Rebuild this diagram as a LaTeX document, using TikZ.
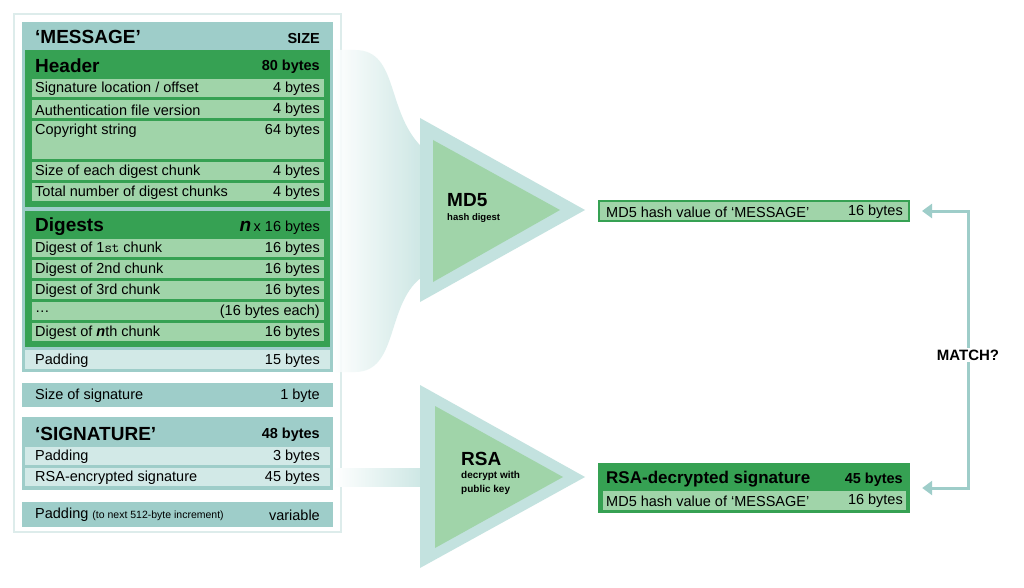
\documentclass[tikz,border=0pt]{standalone}
\usepackage{fontspec}
\setmainfont{Liberation Sans}
\usetikzlibrary{arrows.meta}
\definecolor{teal1}{HTML}{9ECDC9}
\definecolor{grn}{HTML}{36A153}
\definecolor{lgrn}{HTML}{A0D4A9}
\definecolor{pteal}{HTML}{D2E9E7}
\definecolor{ateal}{HTML}{C3E2DF}
\definecolor{frame}{HTML}{DDECEB}
\newcommand\myrow[6]{% name, x1, x2, ytop, ybot, fill
  \node[rowbox,fill=#6,minimum width={#3-#2},minimum height={#5-#4}] (#1) at ({(#2+#3)/2},{(#4+#5)/2}) {};}
\tikzset{rowbox/.style={inner sep=0,draw=none,anchor=center},
  lt/.style={anchor=west,inner sep=0,yshift=-1pt,font=\fontsize{14.5}{15}\selectfont},
  rt/.style={anchor=east,inner sep=0,yshift=-1pt,font=\fontsize{14.5}{15}\selectfont},
  tt/.style={anchor=west,inner sep=0,font=\fontsize{19}{20}\selectfont\bfseries},
  tr/.style={anchor=east,inner sep=0,font=\fontsize{14.5}{15}\selectfont\bfseries}}
\begin{document}
\begin{tikzpicture}[x=1pt,y=-1pt]
\useasboundingbox (0,0) rectangle (1024,588);
\fill[white] (0,0) rectangle (1024,588);
% frame
\draw[frame,line width=1.2pt] (14,14) rectangle (341,532);
% message container
\myrow{msg}{22}{333}{22}{372}{teal1}
\node[tt] (msgt) at (35,37) {‘MESSAGE’};
\node[tr] (msgs) at (320,39) {SIZE};
\myrow{hdr}{25}{330}{50}{207}{grn}
\node[tt] (hdrt) at (35,66) {Header};
\node[tr] (hdrs) at (320,67) {80 bytes};
\foreach \n/\a/\b/\l/\r in {h2/100/118/Authentication file version/4 bytes,h4/162/180/Size of each digest chunk/4 bytes,h5/183/201/Total number of digest chunks/4 bytes}{
  \myrow{\n}{32}{324}{\a}{\b}{lgrn}
  \node[lt] at (35,{(\a+\b)/2}) {\l};
  \node[rt] at (320,{(\a+\b)/2}) {\r};}
\myrow{h1}{32}{324}{79}{97}{lgrn}
\node[lt] at (35,88) {Signature location / offset};
\node[rt] at (320,88) {4 bytes};
\myrow{h3}{32}{324}{121}{159}{lgrn}
\node[lt] at (35,130) {Copyright string};
\node[rt] at (320,130) {64 bytes};
\myrow{dig}{25}{330}{211}{347}{grn}
\node[tt] (digt) at (35,227) {Digests};
\node[tr] (digs) at (320,228) {{\fontsize{19}{20}\selectfont\itshape n}\,\mdseries{}x 16 bytes};
\foreach \n/\a/\b/\l/\r in {d1/239/257/Digest of 1{\ttfamily st} chunk/16 bytes,d2/260/278/Digest of 2nd chunk/16 bytes,d3/281/299/Digest of 3rd chunk/16 bytes,d5/323/341/Digest of {\bfseries\itshape n}th chunk/16 bytes}{
  \myrow{\n}{32}{324}{\a}{\b}{lgrn}
  \node[lt] at (35,{(\a+\b)/2}) {\l};
  \node[rt] at (320,{(\a+\b)/2}) {\r};}
\myrow{d4}{32}{324}{302}{320}{lgrn}
\node[lt] at (35,311) {\ldots};
\node[rt] at (320,311) {(16 bytes each)};
\myrow{pad}{25}{330}{350}{369}{pteal}
\node[lt] at (35,360) {Padding};
\node[rt] at (320,360) {15 bytes};
\myrow{sos}{22}{333}{383}{407}{teal1}
\node[lt] at (35,395) {Size of signature};
\node[rt] at (320,395) {1 byte};
\myrow{sig}{22}{333}{417}{490}{teal1}
\node[tt] at (35,434) {‘SIGNATURE’};
\node[tr] at (320,435) {48 bytes};
\myrow{s1}{25}{330}{447}{465}{pteal}
\node[lt] at (35,456) {Padding};
\node[rt] at (320,456) {3 bytes};
\myrow{s2}{25}{330}{468}{486}{pteal}
\node[lt] at (35,477) {RSA-encrypted signature};
\node[rt] at (320,477) {45 bytes};
\myrow{pv}{22}{333}{502}{527}{teal1}
\node[lt] at (35,514) {Padding {\fontsize{10.5}{11}\selectfont(to next 512-byte increment)}};
\node[rt] at (320,514) {variable};
% funnel
\shade[left color=white,right color=ateal,fill opacity=0.85]
  (333,50) -- (355,50) .. controls (400,50) and (385,115) .. (425,150)
  -- (425,275) .. controls (385,300) and (400,372) .. (355,372) -- (333,372) -- cycle;
% MD5 arrow
\fill[ateal] (420,118) -- (585,210) -- (420,302) -- cycle;
\fill[lgrn] (433,140) -- (560,210) -- (433,282) -- cycle;
\node[anchor=west,inner sep=0,font=\fontsize{19}{20}\selectfont\bfseries] (md5) at (447,200) {MD5};
\node[anchor=west,inner sep=0,font=\fontsize{9.5}{10}\selectfont\bfseries] at (447,218) {hash digest};
% RSA arrow
\shade[left color=white,right color=ateal] (333,468) rectangle (440,486);
\fill[ateal] (420,385) -- (585,477) -- (420,568) -- cycle;
\fill[lgrn] (435,406) -- (563,477) -- (435,548) -- cycle;
\node[anchor=west,inner sep=0,font=\fontsize{19}{20}\selectfont\bfseries] (rsa) at (461,459) {RSA};
\node[anchor=north west,inner sep=0,align=left,font=\fontsize{10}{14}\selectfont\bfseries] at (461,471) {decrypt with\\public key};
% result boxes
\node[draw=grn,line width=2pt,fill=lgrn,minimum width=310,minimum height=20,inner sep=0] (hv) at (754,211) {};
\node[lt] at (606,211) {MD5 hash value of ‘MESSAGE’};
\node[rt] at (903,211) {16 bytes};
\node[fill=grn,minimum width=312,minimum height=50,inner sep=0] (rd) at (754,488) {};
\myrow{rdr}{603}{906}{491}{510}{lgrn}
\node[anchor=west,inner sep=0,font=\fontsize{17}{18}\selectfont\bfseries] at (606,479) {RSA-decrypted signature};
\node[tr] at (903,480) {45 bytes};
\node[lt] at (606,500) {MD5 hash value of ‘MESSAGE’};
\node[rt] at (903,500) {16 bytes};
% match
\coordinate (m) at (968,355);
\draw[teal1,line width=3pt,-{Triangle[length=10pt,width=14pt]}] (m) |- ([xshift=12pt]hv.east);
\draw[teal1,line width=3pt,-{Triangle[length=10pt,width=14pt]}] (m) |- ([xshift=12pt]rd.east);
\node[fill=white,inner sep=2pt,font=\fontsize{15}{16}\selectfont\bfseries] at (m) {MATCH?};
\end{tikzpicture}
\end{document}
